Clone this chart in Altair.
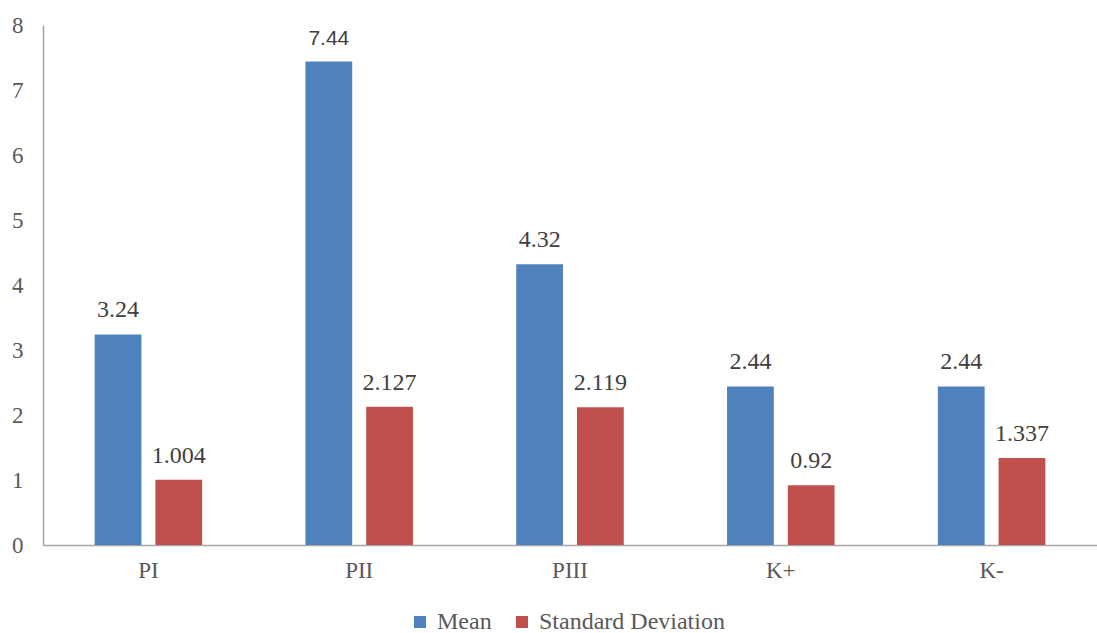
import altair as alt
import pandas as pd

categories = ["PI", "PII", "PIII", "K+", "K-"]
mean_vals = [3.24, 7.44, 4.32, 2.44, 2.44]
sd_vals = [1.004, 2.127, 2.119, 0.92, 1.337]
mean_labels = ["3.24", "7.44", "4.32", "2.44", "2.44"]
sd_labels = ["1.004", "2.127", "2.119", "0.92", "1.337"]
series = ["Mean", "Standard Deviation"]

rows = []
for c, m, ml in zip(categories, mean_vals, mean_labels):
    rows.append({"cat": c, "series": series[0], "value": m, "label": ml})
for c, s, sl in zip(categories, sd_vals, sd_labels):
    rows.append({"cat": c, "series": series[1], "value": s, "label": sl})
df = pd.DataFrame(rows)

FONT = "'Liberation Serif', 'Times New Roman', 'DejaVu Serif', serif"
SANS = "'Liberation Sans', Arial, sans-serif"

x = alt.X("cat:N", sort=categories, title=None,
          scale=alt.Scale(paddingInner=0.49, paddingOuter=0.245),
          axis=alt.Axis(labelAngle=0, labelFont=FONT, labelFontSize=23,
                        labelColor="#595959", ticks=False, labelPadding=14,
                        domainColor="#A6A6A6", domainWidth=1.5))
xo = alt.XOffset("series:N", sort=series,
                 scale=alt.Scale(paddingInner=0.23, paddingOuter=0))

base = alt.Chart(df).encode(x=x, xOffset=xo)

bars = base.mark_bar().encode(
    y=alt.Y("value:Q", title=None,
            scale=alt.Scale(domain=[0, 8], nice=False),
            axis=alt.Axis(values=list(range(0, 9)), format="d", grid=False, ticks=False,
                          labelOverlap=False,
                          labelFont=FONT, labelFontSize=23, labelColor="#595959",
                          labelPadding=20, domainColor="#A6A6A6", domainWidth=1.5)),
    color=alt.Color("series:N", sort=series,
                    scale=alt.Scale(domain=series, range=["#4F81BD", "#C0504D"]),
                    legend=alt.Legend(title=None, orient="none", direction="horizontal",
                                      legendX=365, legendY=585, padding=0,
                                      symbolType="square",
                                      symbolSize=144, symbolStrokeWidth=0,
                                      labelFont=FONT, labelFontSize=24, labelColor="#595959",
                                      labelLimit=400,
                                      columnPadding=18, labelOffset=5)),
)

text_serif = base.mark_text(dy=-12, baseline="bottom", font=FONT, fontSize=24,
                            color="#404040").encode(
    y=alt.Y("value:Q"),
    text="label:N",
).transform_filter("datum.label != '7.44'")

text_sans = base.mark_text(dy=-12, baseline="bottom", font=SANS, fontSize=21,
                           color="#404040").encode(
    y=alt.Y("value:Q"),
    text="label:N",
).transform_filter("datum.label == '7.44'")

chart = (bars + text_serif + text_sans).properties(
    width=1054, height=520,
    autosize=alt.AutoSizeParams(type="none"),
    padding={"left": 43, "top": 25, "right": 0, "bottom": 88},
).configure_view(stroke=None)

chart.save("out.html", embed_options={"renderer": "svg", "actions": False})
